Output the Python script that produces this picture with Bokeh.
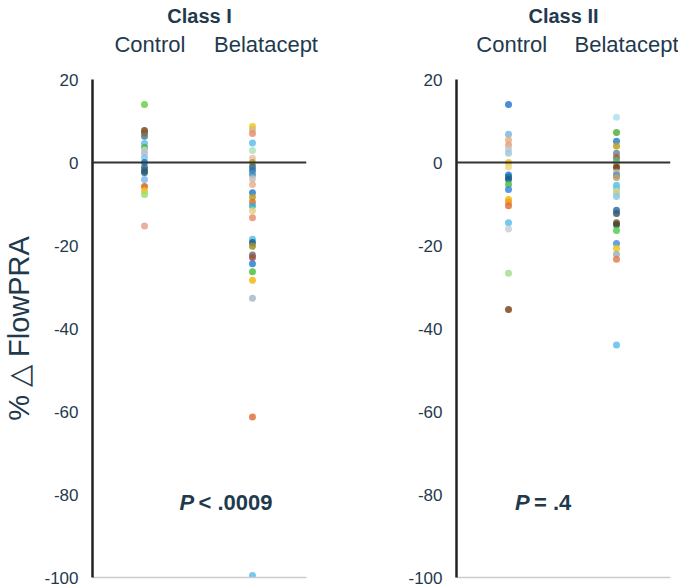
from bokeh.plotting import figure
from bokeh.layouts import row
from bokeh.models import Range1d, LinearAxis, FixedTicker, Span, Label
from bokeh.embed import file_html
from bokeh.resources import INLINE

groups = ["Control", "Belatacept"]
panel_titles = ["Class I", "Class II"]
y_ticks = [20, 0, -20, -40, -60, -80, -100]
y_tick_labels = ["20", "0", "-20", "-40", "-60", "-80", "-100"]
p_labels = [("P", "< .0009"), ("P", "= .4")]

c1_control = [14, 7.7, 7.1, 6.3, 4.6, 3.6, 3.0, 2.2, 1.2, 0, -1.2, -1.9, -2.4,
              -4.1, -5.8, -6.8, -7.7, -15.3]
c1_belatacept = [8.7, 7.9, 7.0, 4.7, 2.9, 1.0, 0, -1.0, -1.9, -2.9, -3.9, -5.3,
                 -7.3, -8.4, -9.6, -10.5, -11.6, -13.3, -18.5, -19.3, -20.2,
                 -22.3, -22.9, -24.4, -26.3, -28.4, -32.7, -61.3, -99.5]
c2_control = [14, 6.8, 5.4, 4.2, 3.2, 2.2, 0, -1.1, -3.0, -3.5, -4.1, -5.3,
              -6.5, -8.9, -9.6, -10.4, -14.5, -16, -26.7, -35.4]
c2_belatacept = [10.9, 7.2, 5.1, 4.0, 2.2, 1.2, 0.3, -0.5, -1.2, -2.4, -3.1,
                 -3.6, -5.5, -6.3, -6.9, -7.6, -8.2, -11.5, -12.3, -14.5,
                 -15.0, -16.4, -19.5, -20.7, -22.1, -23.3, -44]

# per-point colour palettes (style)
c1_control_colors = ["#6ad04a", "#7b4a1e", "#8a5a2a", "#5a7a8a", "#5bc0eb", "#44bb44",
                     "#c4ccd0", "#b8c0c8", "#88c4e8", "#1f78c8", "#2a6f8f", "#3a6078",
                     "#2a5a78", "#80b8f0", "#d2691e", "#f5c020", "#98e070", "#e8a090"]
c1_belatacept_colors = ["#f5c518", "#d0b890", "#e8906c", "#5bc0eb", "#b0e0c0", "#e8c0b0",
                        "#b8a020", "#3a6a80", "#2a70b0", "#4090c0", "#c8c0b8", "#e8b090",
                        "#2a7ad0", "#b8a020", "#e07030", "#30b0c0", "#e8d080", "#e89070",
                        "#5bc0eb", "#1a5a90", "#9a9020", "#707070", "#a05040", "#2a80d0",
                        "#50c040", "#f5b810", "#a8b8c8", "#e07040", "#5bc0eb"]
c2_control_colors = ["#2a7ad0", "#7ab8e0", "#e8b080", "#e8a080", "#c0c8d0", "#a0c8e0",
                     "#f5c518", "#f0d880", "#2a80d0", "#1a70a0", "#1a5a90", "#50c040",
                     "#3a8ae0", "#f5b810", "#f0a020", "#e07040", "#5bc0eb", "#c8d0d8",
                     "#a0e090", "#7a4a1e"]
c2_belatacept_colors = ["#b0e0f0", "#50b040", "#2a80d0", "#b8a020", "#6a8898", "#a06040",
                        "#40c080", "#c8a070", "#6a3a10", "#c0b0a0", "#4a90d0", "#c0a060",
                        "#5bc0eb", "#60c8f0", "#e8d080", "#b0d890", "#90c8e8", "#2a70b0",
                        "#3a5a6a", "#8a5020", "#3a4a3a", "#50d050", "#4a90e0", "#f5c518",
                        "#a0b0c0", "#e08050", "#5bc0eb"]

TEXT = "#1f3a4d"
FONT = "Liberation Sans"


def make_panel(title, control, belatacept, ccol, bcol, plabel, px, left, header_ticks):
    p = figure(output_backend="svg", toolbar_location=None,
               frame_width=214, frame_height=498,
               x_range=Range1d(0.5185, 2.5), y_range=Range1d(-100, 20),
               min_border_left=85 if left else 117,
               min_border_right=33 if left else 8,
               min_border_top=10, min_border_bottom=9,
               background_fill_color="white", border_fill_color="white")
    p.outline_line_color = None
    p.grid.visible = False

    p.title.text = title
    p.title.align = "center"
    p.title.text_font = FONT
    p.title.text_font_size = "20px"
    p.title.text_font_style = "bold"
    p.title.text_color = TEXT
    p.title.standoff = 4

    # y axis
    ya = p.yaxis[0]
    ya.ticker = FixedTicker(ticks=y_ticks)
    ya.major_label_overrides = dict(zip(y_ticks, y_tick_labels))
    ya.major_tick_line_color = None
    ya.minor_tick_line_color = None
    ya.axis_line_color = "#222222"
    ya.axis_line_width = 2.5
    ya.major_label_text_font = FONT
    ya.major_label_text_font_size = "17px"
    ya.major_label_text_color = TEXT
    ya.major_label_standoff = 8
    if left:
        ya.axis_label = "% \u25b3 FlowPRA"
        ya.axis_label_text_font = FONT
        ya.axis_label_text_font_size = "29px"
        ya.axis_label_text_font_style = "normal"
        ya.axis_label_text_color = TEXT
        ya.axis_label_standoff = 6

    # bottom light line
    xa = p.xaxis[0]
    xa.ticker = FixedTicker(ticks=[])
    xa.axis_line_color = "#cccccc"
    xa.axis_line_width = 1.5
    xa.major_tick_line_color = None
    xa.minor_tick_line_color = None

    # category labels above
    top = LinearAxis(ticker=FixedTicker(ticks=header_ticks),
                     major_label_overrides={header_ticks[0]: groups[0],
                                            header_ticks[1]: groups[1]})
    top.axis_line_color = None
    top.major_tick_line_color = None
    top.minor_tick_line_color = None
    top.major_label_text_font = FONT
    top.major_label_text_font_size = "22px"
    top.major_label_text_color = TEXT
    top.major_label_standoff = 17
    p.add_layout(top, "above")

    p.add_layout(Span(location=0, dimension="width", line_color="#333333", line_width=2))

    p.scatter(x=[1] * len(control), y=control, size=7, fill_color=ccol,
              line_color=None, fill_alpha=0.85)
    p.scatter(x=[2] * len(belatacept), y=belatacept, size=7, fill_color=bcol,
              line_color=None, fill_alpha=0.85)

    p.add_layout(Label(x=px, y=-82, text=plabel[0], text_font=FONT, text_font_size="22px",
                       text_font_style="bold italic", text_color=TEXT,
                       text_baseline="middle", text_align="left"))
    p.add_layout(Label(x=px, y=-82, x_offset=19, text=plabel[1], text_font=FONT,
                       text_font_size="22px", text_font_style="bold", text_color=TEXT,
                       text_baseline="middle", text_align="left"))
    return p


p1 = make_panel(panel_titles[0], c1_control, c1_belatacept, c1_control_colors,
                c1_belatacept_colors, p_labels[0], 1.324, True, [1.05, 2.125])
p2 = make_panel(panel_titles[1], c2_control, c2_belatacept, c2_control_colors,
                c2_belatacept_colors, p_labels[1], 1.06, False, [1.03, 2.1])

layout = row(p1, p2)
open("out.html", "w").write(file_html(layout, INLINE))
